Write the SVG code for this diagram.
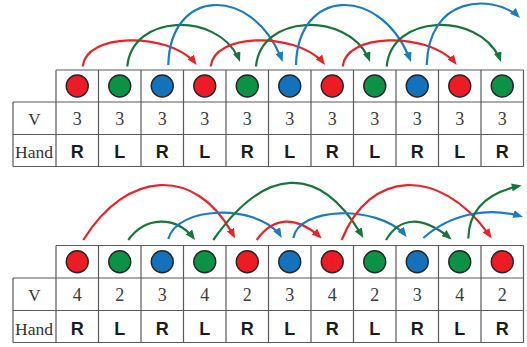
<svg xmlns="http://www.w3.org/2000/svg" width="527" height="347" viewBox="0 0 527 347">
<style>
.grid{fill:none;stroke:#5a5a5a;stroke-width:1.2}
.ball{stroke:#262626;stroke-width:1.4}
.r{fill:#ed1c24}.g{fill:#0c9244}.b{fill:#1471bc}
.lab{font-family:"Liberation Serif",serif;font-size:17px;fill:#333;text-anchor:middle}
.num{font-family:"Liberation Serif",serif;font-size:18px;fill:#3a3a3a;text-anchor:middle}
.hand{font-family:"Liberation Sans",Arial,sans-serif;font-weight:bold;font-size:18px;fill:#1c1c1c;text-anchor:middle}
.arc{fill:none;stroke-width:2.2;stroke-dasharray:96.5 100}
.ar{stroke:#ee2226;marker-end:url(#mr)}
.ag{stroke:#17763b;marker-end:url(#mg)}
.ab{stroke:#1b7bc4;marker-end:url(#mb)}
</style>
<defs>
<marker id="mr" viewBox="0 0 10 8" refX="10" refY="4" markerWidth="10" markerHeight="8" markerUnits="userSpaceOnUse" orient="auto"><path d="M0,0L10,4L0,8z" fill="#ee2226"/></marker>
<marker id="mg" viewBox="0 0 10 8" refX="10" refY="4" markerWidth="10" markerHeight="8" markerUnits="userSpaceOnUse" orient="auto"><path d="M0,0L10,4L0,8z" fill="#17763b"/></marker>
<marker id="mb" viewBox="0 0 10 8" refX="10" refY="4" markerWidth="10" markerHeight="8" markerUnits="userSpaceOnUse" orient="auto"><path d="M0,0L10,4L0,8z" fill="#1b7bc4"/></marker>
</defs>
<rect width="527" height="347" fill="#fff"/>

<g id="table-top" class="grid">
<path d="M56,70H523.5M13,102H523.5M13,134.5H523.5M13,166.5H523.5M13,102V166.5M56,70V166.5M98.5,70V166.5M141,70V166.5M183.5,70V166.5M226,70V166.5M268.5,70V166.5M311,70V166.5M353.5,70V166.5M396,70V166.5M438.5,70V166.5M481,70V166.5M523.5,70V166.5"/>
</g>
<g id="labels-top">
<text class="lab" x="34.5" y="124.5">V</text>
<text class="lab" x="34" y="157.5" textLength="38" lengthAdjust="spacingAndGlyphs">Hand</text>
</g>

<g id="top-0"><circle class="ball r" cx="77.25" cy="86" r="11"/><text class="num" x="77.25" y="125">3</text><text class="hand" x="77.25" y="157.5">R</text></g>
<g id="top-1"><circle class="ball g" cx="119.75" cy="86" r="11"/><text class="num" x="119.75" y="125">3</text><text class="hand" x="119.75" y="157.5">L</text></g>
<g id="top-2"><circle class="ball b" cx="162.25" cy="86" r="11"/><text class="num" x="162.25" y="125">3</text><text class="hand" x="162.25" y="157.5">R</text></g>
<g id="top-3"><circle class="ball r" cx="204.75" cy="86" r="11"/><text class="num" x="204.75" y="125">3</text><text class="hand" x="204.75" y="157.5">L</text></g>
<g id="top-4"><circle class="ball g" cx="247.25" cy="86" r="11"/><text class="num" x="247.25" y="125">3</text><text class="hand" x="247.25" y="157.5">R</text></g>
<g id="top-5"><circle class="ball b" cx="289.75" cy="86" r="11"/><text class="num" x="289.75" y="125">3</text><text class="hand" x="289.75" y="157.5">L</text></g>
<g id="top-6"><circle class="ball r" cx="332.25" cy="86" r="11"/><text class="num" x="332.25" y="125">3</text><text class="hand" x="332.25" y="157.5">R</text></g>
<g id="top-7"><circle class="ball g" cx="374.75" cy="86" r="11"/><text class="num" x="374.75" y="125">3</text><text class="hand" x="374.75" y="157.5">L</text></g>
<g id="top-8"><circle class="ball b" cx="417.25" cy="86" r="11"/><text class="num" x="417.25" y="125">3</text><text class="hand" x="417.25" y="157.5">R</text></g>
<g id="top-9"><circle class="ball r" cx="459.75" cy="86" r="11"/><text class="num" x="459.75" y="125">3</text><text class="hand" x="459.75" y="157.5">L</text></g>
<g id="top-10"><circle class="ball g" cx="502.25" cy="86" r="11"/><text class="num" x="502.25" y="125">3</text><text class="hand" x="502.25" y="157.5">R</text></g>

<g id="table-bottom" class="grid">
<path d="M56,245.5H523.5M13,278H523.5M13,310.5H523.5M13,342.5H523.5M13,278V342.5M56,245.5V342.5M98.5,245.5V342.5M141,245.5V342.5M183.5,245.5V342.5M226,245.5V342.5M268.5,245.5V342.5M311,245.5V342.5M353.5,245.5V342.5M396,245.5V342.5M438.5,245.5V342.5M481,245.5V342.5M523.5,245.5V342.5"/>
</g>
<g id="labels-bottom">
<text class="lab" x="34.5" y="300.5">V</text>
<text class="lab" x="34" y="334.5" textLength="38" lengthAdjust="spacingAndGlyphs">Hand</text>
</g>

<g id="bot-0"><circle class="ball r" cx="77.25" cy="261.75" r="11"/><text class="num" x="77.25" y="301">4</text><text class="hand" x="77.25" y="334.5">R</text></g>
<g id="bot-1"><circle class="ball g" cx="119.75" cy="261.75" r="11"/><text class="num" x="119.75" y="301">2</text><text class="hand" x="119.75" y="334.5">L</text></g>
<g id="bot-2"><circle class="ball b" cx="162.25" cy="261.75" r="11"/><text class="num" x="162.25" y="301">3</text><text class="hand" x="162.25" y="334.5">R</text></g>
<g id="bot-3"><circle class="ball g" cx="204.75" cy="261.75" r="11"/><text class="num" x="204.75" y="301">4</text><text class="hand" x="204.75" y="334.5">L</text></g>
<g id="bot-4"><circle class="ball r" cx="247.25" cy="261.75" r="11"/><text class="num" x="247.25" y="301">2</text><text class="hand" x="247.25" y="334.5">R</text></g>
<g id="bot-5"><circle class="ball b" cx="289.75" cy="261.75" r="11"/><text class="num" x="289.75" y="301">3</text><text class="hand" x="289.75" y="334.5">L</text></g>
<g id="bot-6"><circle class="ball r" cx="332.25" cy="261.75" r="11"/><text class="num" x="332.25" y="301">4</text><text class="hand" x="332.25" y="334.5">R</text></g>
<g id="bot-7"><circle class="ball g" cx="374.75" cy="261.75" r="11"/><text class="num" x="374.75" y="301">2</text><text class="hand" x="374.75" y="334.5">L</text></g>
<g id="bot-8"><circle class="ball b" cx="417.25" cy="261.75" r="11"/><text class="num" x="417.25" y="301">3</text><text class="hand" x="417.25" y="334.5">R</text></g>
<g id="bot-9"><circle class="ball g" cx="459.75" cy="261.75" r="11"/><text class="num" x="459.75" y="301">4</text><text class="hand" x="459.75" y="334.5">L</text></g>
<g id="bot-10"><circle class="ball r" cx="502.25" cy="261.75" r="11"/><text class="num" x="502.25" y="301">2</text><text class="hand" x="502.25" y="334.5">R</text></g>

<g id="connectors">
<path class="arc ar" pathLength="100" d="M82.7,66.5C85.7,31.8 171.7,31.8 196.7,65"/>
<path class="arc ag" pathLength="100" d="M127.3,66.5C132.3,11.9 222,11.9 240,62"/>
<path class="arc ab" pathLength="100" d="M168.3,65C170.3,-14.5 254.7,-14.5 282.7,62"/>
<path class="arc ar" pathLength="100" d="M210.7,66.5C213.7,31.8 300,31.8 325,65"/>
<path class="arc ag" pathLength="100" d="M256,66.5C261,11.9 352,11.9 370,62"/>
<path class="arc ab" pathLength="100" d="M296,65C298,-14.5 383,-14.5 411,62"/>
<path class="arc ar" pathLength="100" d="M342.7,66.5C345.7,31.8 431.7,31.8 456.7,65"/>
<path class="arc ag" pathLength="100" d="M386.7,66.5C391.7,11.9 483,11.9 501,62"/>
<path class="arc ab" pathLength="100" d="M426.7,65C429,-8 497,-5 520,18"/>

<path class="arc ar" pathLength="100" d="M83.3,240C128.9,166.9 199,166.9 235,238.5"/>
<path class="arc ag" pathLength="100" d="M128.3,240C146,215.6 177,215.6 195,240"/>
<path class="arc ab" pathLength="100" d="M168.3,239C177.8,204.1 262.3,204.1 281.7,238"/>
<path class="arc ag" pathLength="100" d="M213.3,240C266.3,164.2 321.3,164.2 363.3,238"/>
<path class="arc ar" pathLength="100" d="M256.7,240C273.7,215.7 297.7,215.7 321.7,238.5"/>
<path class="arc ab" pathLength="100" d="M293.3,238C299.3,205.2 381.7,205.2 406.7,237"/>
<path class="arc ar" pathLength="100" d="M341.7,240C370.7,166.9 442.7,166.9 491.7,238.5"/>
<path class="arc ag" pathLength="100" d="M386,240C400.4,215.7 423,215.7 451.7,239.5"/>
<path class="arc ab" pathLength="100" d="M423.3,238C455,210 495,208 523,217"/>
<path class="arc ag" pathLength="100" d="M468.3,238.5C469,208 488,192 521.7,185.5"/>
</g>
</svg>
